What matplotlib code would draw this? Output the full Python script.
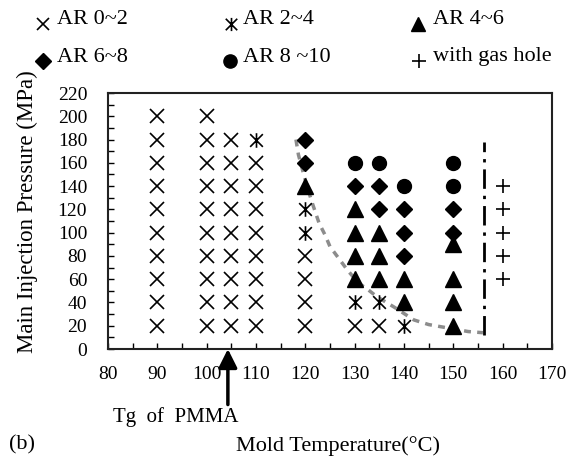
import matplotlib
matplotlib.use("Agg")
import matplotlib.pyplot as plt
from matplotlib.path import Path
import numpy as np

plt.rcParams['font.family'] = ['Liberation Serif', 'DejaVu Serif']
plt.rcParams['mathtext.fontset'] = 'stix'

# ---------------- data ----------------
ar02_x = [90]*10 + [100]*10 + [105]*9 + [110]*8 + [120]*4 + [130, 135]
ar02_y = list(range(20, 201, 20)) + list(range(20, 201, 20)) + list(range(20, 181, 20)) \
    + list(range(20, 161, 20)) + [20, 40, 60, 80] + [20, 20]

ar24_x = [110, 120, 120, 130, 135, 140]
ar24_y = [180, 100, 120, 40, 40, 20]

ar46_x = [120, 130, 130, 130, 130, 135, 135, 135, 140, 140, 150, 150, 150, 150]
ar46_y = [140, 60, 80, 100, 120, 60, 80, 100, 40, 60, 20, 40, 60, 90]

ar68_x = [120, 120, 130, 135, 135, 140, 140, 140, 150, 150]
ar68_y = [160, 180, 140, 120, 140, 80, 100, 120, 100, 120]

ar810_x = [130, 135, 140, 150, 150]
ar810_y = [160, 160, 140, 140, 160]

gas_x = [160, 160, 160, 160, 160]
gas_y = [60, 80, 100, 120, 140]

# boundary curve (gray dashed)
curve_x = [118.1, 118.6, 119.8, 121.2, 122.0, 122.8, 124.0, 125.0, 128.5, 130.7,
           132.7, 134.5, 138.0, 142.0, 145.0, 149.0, 153.0, 156.0]
curve_y = [180, 167, 148, 128, 118, 108, 98, 88, 68, 57,
           51, 45, 36, 25, 21, 18, 15, 14]

# vertical dash-dot boundary
vline_x = 156.3
vline_y = [12, 178]

tg_pmma = 104.3

x_ticks = list(range(80, 171, 10))
y_ticks = list(range(0, 221, 20))

# ---------------- figure ----------------
fig = plt.figure(figsize=(5.76, 4.61), dpi=100)
ax = fig.add_axes([108/576, 1-349/461, 444/576, 256/461])

ast = Path([(-1, -1), (1, 1), (-1, 1), (1, -1), (0, -1.15), (0, 1.15)],
           [Path.MOVETO, Path.LINETO, Path.MOVETO, Path.LINETO, Path.MOVETO, Path.LINETO])

ax.plot(curve_x, curve_y, color='#8c8c8c', lw=2.5, dashes=(2.0, 1.8), zorder=1)
ax.plot([vline_x, vline_x], vline_y, color='black', lw=2, dashes=(7, 2.5, 1.2, 2.5), zorder=1)

ax.plot(ar02_x, ar02_y, ls='none', marker='x', ms=9.5, mew=1.2, color='black', zorder=3)
ax.plot(ar24_x, ar24_y, ls='none', marker=ast, ms=10.5, mew=1.2, color='black', zorder=3)
ax.plot(ar46_x, ar46_y, ls='none', marker='^', ms=11, color='black', zorder=3)
ax.plot(ar68_x, ar68_y, ls='none', marker='D', ms=8.5, color='black', zorder=3)
ax.plot(ar810_x, ar810_y, ls='none', marker='o', ms=10, color='black', zorder=3)
ax.plot(gas_x, gas_y, ls='none', marker='+', ms=10, mew=1.2, color='black', zorder=3)

ax.set_xlim(80, 170)
ax.set_ylim(0, 220)
ax.set_xticks(x_ticks)
ax.set_xticks(list(range(85, 170, 10)), minor=True)
ax.set_yticks(y_ticks)
ax.set_yticks(list(range(10, 220, 20)), minor=True)
ax.tick_params(axis='both', which='both', direction='in', length=4, width=1, labelsize=14)
ax.tick_params(axis='x', which='major', pad=12)
ax.tick_params(axis='y', which='major', pad=15)
for sp in ax.spines.values():
    sp.set_linewidth(1.5)
    sp.set_color('#222222')

ax.set_xlabel('Mold Temperature(°C)', fontsize=16, va='center')
ax.xaxis.set_label_coords((338-108)/444, (349-446)/256)
ax.set_ylabel('Main Injection Pressure (MPa)', fontsize=16.5, va='center')
ax.yaxis.set_label_coords((27-108)/444, (349-212)/256)

ax.annotate('', xy=(tg_pmma, 0), xytext=(0, -40), textcoords='offset points',
            arrowprops=dict(arrowstyle='-|>', lw=2.5, mutation_scale=28, color='black',
                            shrinkA=0, shrinkB=0), annotation_clip=False)

# overlay in pixel coords for legend and labels
ov = fig.add_axes([0, 0, 1, 1], facecolor='none')
ov.set_xlim(0, 576)
ov.set_ylim(461, 0)
ov.axis('off')

ov.text(176, 417, 'Tg  of  PMMA', fontsize=15, ha='center', va='center')
ov.text(22, 445, '(b)', fontsize=16, ha='center', va='center')

leg = [
    ('x', 43, 24, 57, 'AR 0~2', dict(ms=8.5, mew=1.2)),
    (ast, 231, 24, 243, 'AR 2~4', dict(ms=9.5, mew=1.2)),
    ('^', 418, 24, 433, 'AR 4~6', dict(ms=10)),
    ('D', 43, 61, 57, 'AR 6~8', dict(ms=8)),
    ('o', 230, 61, 243, 'AR 8 ~10', dict(ms=9.5)),
    ('+', 419, 61, 433, 'with gas hole', dict(ms=10, mew=1.2)),
]
for m, mx, my, tx, lab, kw in leg:
    ov.plot([mx], [my], ls='none', marker=m, color='black', **kw)
    ov.text(tx, my - 4, lab, fontsize=16, ha='left', va='center')

fig.savefig('out.png', dpi=100)
